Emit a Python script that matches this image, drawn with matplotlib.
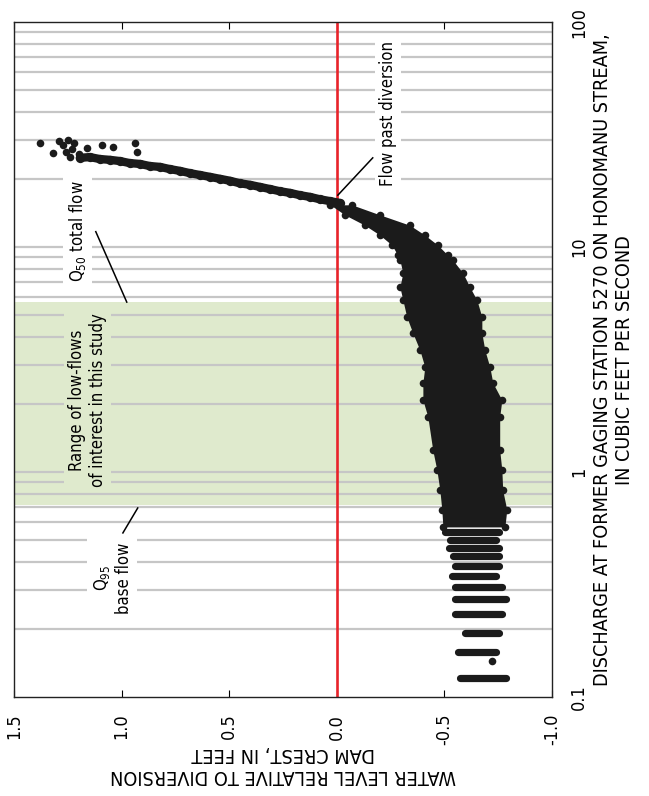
import matplotlib

matplotlib.use("Agg")
import matplotlib.pyplot as plt

# Fonte estreita parecida com a do relatorio (DejaVu condensada)
plt.rcParams["font.family"] = ["DejaVu Sans"]
plt.rcParams["font.stretch"] = "condensed"
plt.rcParams["mathtext.fontset"] = "dejavusans"

# --- dados ---
# pontos isolados no topo (nivel em pes, vazao em cfs)
topo_nivel = [1.38, 1.32, 1.29, 1.25, 1.22, 1.24, 1.16, 1.09, 1.04, 0.94, 0.93, 1.27, 1.23, 1.20, 1.26]
topo_vazao = [29.0, 26.2, 29.6, 29.9, 29.0, 25.1, 27.5, 28.4, 27.8, 29.0, 26.4, 28.5, 27.2, 26.0, 26.5]

# faixa estreita acima da crista (vazao > 15 cfs)
faixa_nivel = [1.194, 1.148, 1.101, 1.055, 1.008, 0.962, 0.915, 0.869, 0.822, 0.776, 0.730,
               0.683, 0.637, 0.590, 0.544, 0.497, 0.451, 0.404, 0.358, 0.311, 0.265, 0.218,
               0.172, 0.125, 0.079, 0.033, -0.014]
faixa_vazao = [24.9, 25.1, 24.6, 24.4, 24.1, 23.6, 23.4, 22.9, 22.7, 22.2, 21.8,
               21.3, 20.9, 20.5, 20.1, 19.7, 19.2, 18.9, 18.5, 18.1, 17.7, 17.4,
               17.0, 16.7, 16.3, 16.0, 15.7]

# nuvem principal: limites esquerdo/direito por vazao
corpo_vazao = [15.4, 13.9, 12.5, 11.3, 10.2, 9.2, 8.75, 7.66, 6.64, 5.81, 4.89, 4.15, 3.48,
               2.93, 2.49, 2.09, 1.76, 1.25, 1.02, 0.83, 0.68, 0.57]
corpo_esq = [0.03, -0.037, -0.130, -0.200, -0.256, -0.283, -0.293, -0.307, -0.293, -0.307,
             -0.325, -0.353, -0.386, -0.409, -0.400, -0.400, -0.423, -0.446, -0.465, -0.479,
             -0.488, -0.493]
corpo_dir = [-0.070, -0.200, -0.339, -0.409, -0.469, -0.516, -0.539, -0.586, -0.618, -0.651,
             -0.674, -0.674, -0.688, -0.711, -0.725, -0.767, -0.757, -0.757, -0.767, -0.771,
             -0.790, -0.781]

# vazoes baixas: linhas de pontos
linha_vazao = [0.541, 0.499, 0.459, 0.423, 0.382, 0.345, 0.308, 0.273, 0.234, 0.193, 0.158, 0.121]
linha_esq = [-0.503, -0.526, -0.521, -0.540, -0.549, -0.535, -0.549, -0.549, -0.549, -0.596, -0.563, -0.572]
linha_dir = [-0.752, -0.742, -0.756, -0.752, -0.756, -0.742, -0.766, -0.784, -0.766, -0.752, -0.738, -0.784]
ponto_solto = (-0.720, 0.145)

Q95, Q50 = 0.71, 5.7
grade_vazao = [0.2, 0.3, 0.4, 0.5, 0.6, 0.7, 0.8, 0.9, 1, 2, 3, 4, 5, 6, 7, 8, 9,
               10, 20, 30, 40, 50, 60, 70, 80, 90]
nivel_ticks = [1.5, 1.0, 0.5, 0.0, -0.5, -1.0]
nivel_rotulos = ["1.5", "1.0", "0.5", "0.0", "-0.5", "-1.0"]
vazao_ticks = [0.1, 1, 10, 100]
vazao_rotulos = ["0.1", "1", "10", "100"]

PRETO = "#1b1b1b"
VERDE = "#dfeacd"
CINZA = "#c6c6c6"
VERMELHO = "#e8232a"

fig = plt.figure(figsize=(6.49, 7.96), dpi=100)
ax = fig.add_axes([14 / 649, 99 / 796, 538 / 649, 675 / 796])

ax.set_yscale("log")
ax.set_xlim(1.5, -1.0)
ax.set_ylim(0.1, 100)

ax.axhspan(Q95, Q50, color=VERDE, lw=0, zorder=0)
for q in grade_vazao:
    ax.axhline(q, color=CINZA, lw=1.6, zorder=1)
ax.axvline(0.0, color=VERMELHO, lw=1.9, zorder=2)

# nuvem de pontos
ax.fill_betweenx(corpo_vazao, corpo_esq, corpo_dir, color=PRETO, lw=0, zorder=3)
ax.scatter(corpo_esq, corpo_vazao, s=30, color=PRETO, lw=0, zorder=3)
ax.scatter(corpo_dir, corpo_vazao, s=30, color=PRETO, lw=0, zorder=3)
ax.plot(faixa_nivel, faixa_vazao, color=PRETO, lw=6, solid_capstyle="round", zorder=3)
ax.scatter(faixa_nivel, faixa_vazao, s=45, color=PRETO, lw=0, zorder=3)
ax.scatter(topo_nivel, topo_vazao, s=30, color=PRETO, lw=0, zorder=3)
ax.hlines(linha_vazao, linha_esq, linha_dir, color=PRETO, lw=5.2, zorder=3,
          capstyle="round")
ax.scatter([ponto_solto[0]], [ponto_solto[1]], s=30, color=PRETO, lw=0, zorder=3)

# anotacoes
caixa_branca = dict(boxstyle="square,pad=0.25", fc="white", ec="none")
ax.text(-0.237, 39.4, "Flow past diversion", rotation=90, ha="center", va="center",
        fontsize=12, bbox=caixa_branca, zorder=4)
ax.plot([-0.167, -0.005], [24.9, 17.0], color="black", lw=1.1, zorder=4)

ax.text(1.204, 11.8, r"Q$_{50}$ total flow", rotation=90, ha="center", va="center",
        fontsize=12, bbox=caixa_branca, zorder=4)
ax.plot([1.12, 0.976], [11.7, 5.69], color="black", lw=1.1, zorder=4)

ax.text(1.157, 2.09, "Range of low-flows\nof interest in this study", rotation=90,
        ha="center", va="center", multialignment="center", fontsize=12,
        bbox=dict(boxstyle="square,pad=0.25", fc=VERDE, ec="none"), zorder=4)

ax.text(1.041, 0.338, "Q$_{95}$\nbase flow", rotation=90, ha="center", va="center",
        multialignment="center", fontsize=12, bbox=caixa_branca, zorder=4)
ax.plot([0.925, 0.994], [0.692, 0.536], color="black", lw=1.1, zorder=4)

# eixos
ax.set_xticks(nivel_ticks)
ax.set_xticklabels(nivel_rotulos)
ax.tick_params(axis="x", which="both", direction="in", length=5, top=True, bottom=True,
               labelsize=13, labelrotation=90, pad=12)
ax.yaxis.tick_right()
ax.set_yticks(vazao_ticks)
ax.set_yticklabels(vazao_rotulos)
ax.yaxis.set_minor_locator(matplotlib.ticker.NullLocator())
ax.tick_params(axis="y", which="both", length=0, labelsize=13, labelrotation=90, pad=13)
for rotulo in ax.get_yticklabels():
    rotulo.set_va("center")
for lado in ax.spines.values():
    lado.set_linewidth(1.0)
    lado.set_color("#222222")
    lado.set_zorder(5)

fig.text(283 / 649, 1 - 765 / 796, "WATER LEVEL RELATIVE TO DIVERSION\nDAM CREST, IN FEET",
         rotation=180, ha="center", va="center", multialignment="center", fontsize=14.2)
fig.text(613 / 649, 1 - 360 / 796,
         "DISCHARGE AT FORMER GAGING STATION 5270 ON HONOMANU STREAM,\nIN CUBIC FEET PER SECOND",
         rotation=90, ha="center", va="center", multialignment="center", fontsize=14.2)

fig.savefig("out.png", dpi=100)
